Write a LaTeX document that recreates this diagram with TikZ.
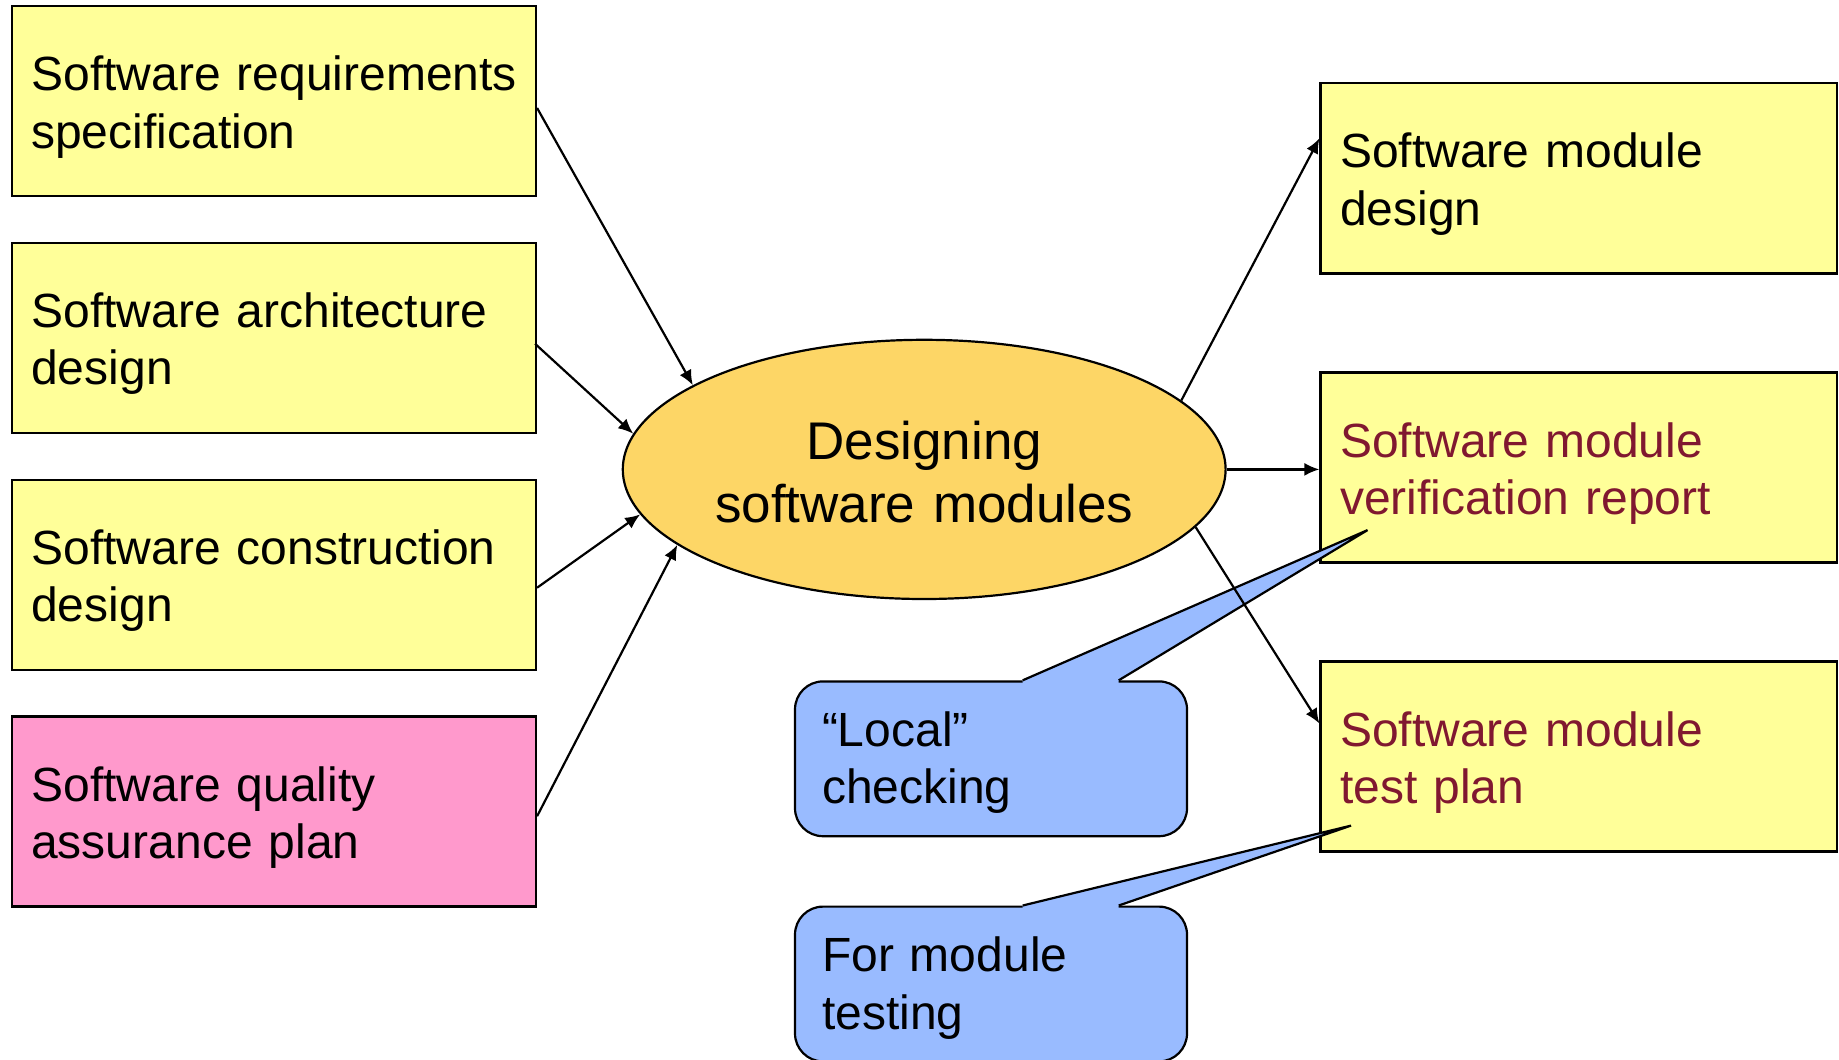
\documentclass[tikz,border=0pt]{standalone}
\usepackage{fontspec}
\setmainfont{Liberation Sans}
\usetikzlibrary{arrows.meta,shapes.geometric}
\definecolor{boxyellow}{RGB}{255,255,153}
\definecolor{boxpink}{RGB}{255,153,204}
\definecolor{ellfill}{RGB}{253,214,102}
\definecolor{callblue}{RGB}{153,187,255}
\definecolor{darkred}{RGB}{128,24,48}
\begin{document}
\begin{tikzpicture}[x=0.5pt,y=-0.5pt,
  doc/.style={draw=black, line width=1.2pt, fill=boxyellow, minimum width=262pt, minimum height=95pt,
    text width=242.6pt, inner xsep=9.7pt, align=left, font=\fontsize{24}{28.75}\selectfont,
    execute at end node={\endgraf\vspace*{-6pt}}},
  proc/.style={ellipse, draw=black, line width=1.1pt, fill=ellfill, minimum width=301.4pt,
    minimum height=129.6pt, inner sep=0pt, text width=212pt, align=center, font=\fontsize{26.5}{31.5}\selectfont,
    execute at end node={\endgraf\vspace*{-3pt}}},
  note/.style={draw=black, line width=1.1pt, fill=callblue, rounded corners=14pt, minimum width=195.9pt,
    minimum height=77.4pt, text width=169pt, inner xsep=13.5pt, align=left, font=\fontsize{24}{28.75}\selectfont,
    execute at end node={\endgraf\vspace*{-4pt}}},
  ptr/.style={draw=black, line width=1.1pt, line join=miter},
  flow/.style={-{Latex[length=7.5pt,width=6.5pt]}, line width=1.1pt}
]
\useasboundingbox (0,0) rectangle (1839,1059);

% left inputs
\node[doc] (b1) at (273.9,101) {\mbox{Software requirements}\\specification};
\node[doc] (b2) at (273.9,337.8) {\mbox{Software architecture}\\design};
\node[doc] (b3) at (273.9,574.7) {\mbox{Software construction}\\design};
\node[doc, fill=boxpink] (b4) at (273.9,811.6) {Software quality\\assurance plan};

% process
\node[proc] (p) at (924.2,469.4) {Designing\\software modules};

% right outputs
\node[doc, minimum width=258.2pt, text width=238.8pt] (r1) at (1578.8,178.3) {Software module\\design};
\node[doc, minimum width=258.2pt, text width=238.8pt, text=darkred] (r2) at (1578.8,467.4) {Software module\\\mbox{verification report}};
\node[doc, minimum width=258.2pt, text width=238.8pt, text=darkred] (r3) at (1578.8,756.5) {Software module\\test plan};

% callouts
\node[note] (c1) at (991,758.8) {“Local”\\checking};
\node[note] (c2) at (991,984) {For module\\testing};
\coordinate (t1) at (1367.5,530.1);
\coordinate (t2) at (1351,825.6);
\path (c1.north west) ++(114.4pt,0) coordinate (c1a) ++(48pt,0) coordinate (c1b);
\path (c2.north west) ++(114.4pt,0) coordinate (c2a) ++(48pt,0) coordinate (c2b);
\fill[callblue] ([yshift=-2pt]c1a) -- (c1a) -- (t1) -- (c1b) -- ([yshift=-2pt]c1b) -- cycle;
\draw[ptr] (c1a) -- (t1) -- (c1b);
\fill[callblue] ([yshift=-2pt]c2a) -- (c2a) -- (t2) -- (c2b) -- ([yshift=-2pt]c2b) -- cycle;
\draw[ptr] (c2a) -- (t2) -- (c2b);

% connectors
\draw[flow] ([yshift=-3.5pt]b1.east) -- (p.160.7);
\draw[flow] ([yshift=-3pt,xshift=-1pt]b2.east) -- (p.173.1);
\draw[flow] ([yshift=-6.5pt]b3.east) -- (p.189.3);
\draw[flow] ([yshift=-2.3pt]b4.east) -- (p.197.1);
\draw[flow] (p.15.1) -- ([yshift=20pt]r1.west);
\draw[flow] (p.0) -- (r2.west |- p.0);
\draw[flow] (p.-12.6) -- ([yshift=16.5pt]r3.west);
\end{tikzpicture}
\end{document}
